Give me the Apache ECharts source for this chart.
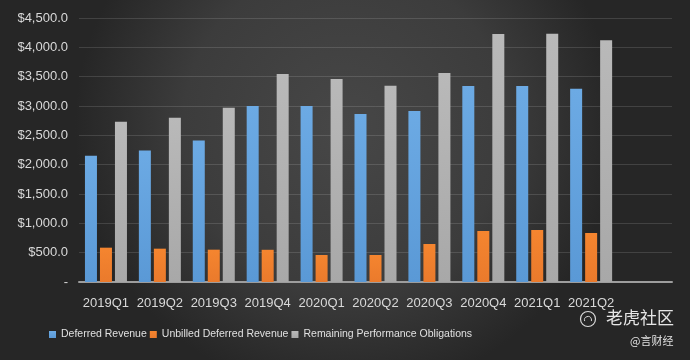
<!DOCTYPE html>
<html>
<head>
<meta charset="utf-8">
<script src="https://cdn.jsdelivr.net/npm/echarts@6/dist/echarts.min.js"></script>
<style>
html,body{margin:0;padding:0;background:#333;}
#chart{width:690px;height:360px;}
</style>
</head>
<body>
<div id="chart"></div>
<script>
const categories = ['2019Q1','2019Q2','2019Q3','2019Q4','2020Q1','2020Q2','2020Q3','2020Q4','2021Q1','2021Q2'];
const deferredRevenue = [2150, 2240, 2410, 3000, 3000, 2865, 2915, 3340, 3340, 3295];
const unbilledDeferredRevenue = [585, 568, 551, 549, 460, 460, 648, 869, 886, 835];
const remainingPerformanceObligations = [2730, 2800, 2970, 3545, 3460, 3345, 3562, 4227, 4230, 4120];
const seriesNames = ['Deferred Revenue','Unbilled Deferred Revenue','Remaining Performance Obligations'];

const axisCategories = categories.concat(['']);
const textColor = '#d9d9d9';

const chart = echarts.init(document.getElementById('chart'), null, {renderer:'canvas'});

function fmt(v){
  if (v === 0) return '-';
  return '$' + v.toLocaleString('en-US',{minimumFractionDigits:1,maximumFractionDigits:1});
}

const option = {
  animation: false,
  backgroundColor: {
    type: 'radial', x: 0.5, y: 0.35, r: 0.75,
    colorStops: [
      {offset: 0, color: '#474747'},
      {offset: 0.6, color: '#3c3c3c'},
      {offset: 1, color: '#262626'}
    ]
  },
  grid: {left: 79, right: 18, top: 18, bottom: 78},
  legend: {
    data: seriesNames,
    left: 49, top: 329, padding: 0,
    itemWidth: 7, itemHeight: 7, itemGap: 3,
    icon: 'rect',
    textStyle: {color: '#e0e0e0', fontSize: 10.5, fontFamily: "'Liberation Sans', sans-serif"}
  },
  xAxis: {
    type: 'category',
    data: axisCategories,
    axisTick: {show: false},
    axisLine: {lineStyle: {color: '#9d9d9d', width: 2}},
    axisLabel: {color: textColor, fontSize: 13, fontFamily: "'Liberation Sans', sans-serif", margin: 15, interval: 0}
  },
  yAxis: {
    type: 'value',
    min: 0, max: 4500, interval: 500,
    axisLine: {show: false},
    axisTick: {show: false},
    splitLine: {lineStyle: {color: 'rgba(255,255,255,0.13)', width: 1}},
    axisLabel: {color: textColor, fontSize: 13, fontFamily: "'Liberation Sans', sans-serif", margin: 11, formatter: fmt}
  },
  series: [
    {name: seriesNames[0], type: 'bar', data: deferredRevenue, barWidth: 12, barGap: '25%',
     itemStyle: {color: {type:'linear',x:0,y:0,x2:0,y2:1,colorStops:[{offset:0,color:'#6caae4'},{offset:1,color:'#5a99d6'}]}}},
    {name: seriesNames[1], type: 'bar', data: unbilledDeferredRevenue, barWidth: 12, barGap: '25%',
     itemStyle: {color: {type:'linear',x:0,y:0,x2:0,y2:1,colorStops:[{offset:0,color:'#f5852f'},{offset:1,color:'#ea7a2c'}]}}},
    {name: seriesNames[2], type: 'bar', data: remainingPerformanceObligations, barWidth: 12, barGap: '25%',
     itemStyle: {color: {type:'linear',x:0,y:0,x2:0,y2:1,colorStops:[{offset:0,color:'#b9b9b9'},{offset:1,color:'#a8a8a8'}]}}}
  ],
  graphic: [
    {type: 'circle', shape: {cx: 588, cy: 319, r: 7.5}, style: {fill: 'none', stroke: '#d8d8d8', lineWidth: 1.2}},
    {type: 'arc', shape: {cx: 588, cy: 320, r: 3.5, startAngle: Math.PI*0.9, endAngle: Math.PI*2.1}, style: {fill: 'none', stroke: '#d8d8d8', lineWidth: 1}},
    {type: 'text', left: 606, top: 309, style: {text: '老虎社区', fill: '#e6e6e6', fontSize: 17, fontFamily: "'Noto Sans CJK SC', sans-serif"}},
    {type: 'text', left: 630, top: 335, style: {text: '@言财经', fill: '#e0e0e0', fontSize: 11, fontFamily: "'Noto Sans CJK SC', sans-serif"}}
  ]
};
chart.setOption(option);
</script>
</body>
</html>
